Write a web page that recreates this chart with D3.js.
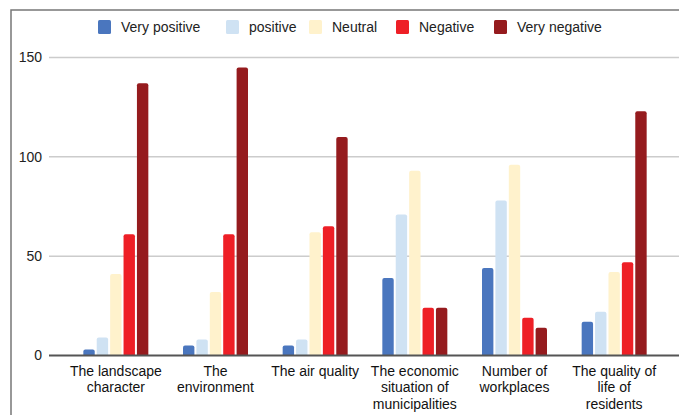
<!DOCTYPE html>
<html lang="en">
<head>
    <meta charset="UTF-8">
    <title>Perception survey</title>
    <script src="https://d3js.org/d3.v7.min.js"></script>
    <style>
        body { margin: 0; background: #fff; }
        svg { display: block; font-family: "Liberation Sans", Arial, sans-serif; }
    </style>
</head>
<body>
    <div id="chart"></div>
    <script>
        // Data
        var categories = [
            ["The landscape", "character"],
            ["The", "environment"],
            ["The air quality"],
            ["The economic", "situation of", "municipalities"],
            ["Number of", "workplaces"],
            ["The quality of", "life of", "residents"]
        ];
        var seriesNames = ["Very positive", "positive", "Neutral", "Negative", "Very negative"];
        var seriesColors = ["#4a76be", "#cfe2f3", "#fff2cc", "#ee1f26", "#951b1e"];
        var veryPositive = [3, 5, 5, 39, 44, 17];
        var positive = [9, 8, 8, 71, 78, 22];
        var neutral = [41, 32, 62, 93, 96, 42];
        var negative = [61, 61, 65, 24, 19, 47];
        var veryNegative = [137, 145, 110, 24, 14, 123];
        var yTicks = [0, 50, 100, 150];

        var allSeries = [veryPositive, positive, neutral, negative, veryNegative];
        var width = 679, height = 415;

        var svg = d3.select("#chart").append("svg")
            .attr("width", width)
            .attr("height", height);

        // outer frame (top and left edges visible)
        svg.append("path")
            .attr("d", "M11,415 V10 H679")
            .attr("fill", "none")
            .attr("stroke", "#777")
            .attr("stroke-width", 1.5);

        var catIdx = d3.range(categories.length);
        var x0 = d3.scaleBand().domain(catIdx).range([66, 664]);
        var x1 = d3.scaleBand().domain(d3.range(seriesNames.length)).range([0, 65]).paddingInner(0.15);
        var y = d3.scaleLinear().domain([0, 150]).range([355.5, 57.5]);

        // gridlines
        svg.append("g").selectAll("line")
            .data(yTicks.filter(function(d) { return d > 0; }))
            .enter().append("line")
            .attr("x1", 49).attr("x2", 681)
            .attr("y1", function(d) { return y(d); })
            .attr("y2", function(d) { return y(d); })
            .attr("stroke", "#ccc")
            .attr("stroke-width", 1.5);

        // y tick labels
        svg.append("g").selectAll("text")
            .data(yTicks)
            .enter().append("text")
            .attr("x", 42)
            .attr("y", function(d) { return y(d); })
            .attr("dy", "0.35em")
            .attr("text-anchor", "end")
            .attr("font-size", 14)
            .attr("fill", "#222")
            .text(function(d) { return d; });

        // bars with rounded tops
        function barPath(x, w, v) {
            var top = y(v), base = y(0), r = Math.min(2, (base - top) / 2);
            return "M" + x + "," + base + "V" + (top + r) +
                "Q" + x + "," + top + " " + (x + r) + "," + top +
                "H" + (x + w - r) +
                "Q" + (x + w) + "," + top + " " + (x + w) + "," + (top + r) +
                "V" + base + "Z";
        }

        var groups = svg.append("g").selectAll("g")
            .data(catIdx)
            .enter().append("g")
            .attr("transform", function(i) { return "translate(" + (x0(i) + x0.bandwidth() / 2 - 32.5) + ",0)"; });

        groups.selectAll("path")
            .data(function(i) { return allSeries.map(function(s, k) { return { k: k, v: s[i] }; }); })
            .enter().append("path")
            .attr("d", function(d) { return barPath(x1(d.k), x1.bandwidth(), d.v); })
            .attr("fill", function(d) { return seriesColors[d.k]; });

        // baseline
        svg.append("line")
            .attr("x1", 49).attr("x2", 681)
            .attr("y1", y(0)).attr("y2", y(0))
            .attr("stroke", "#555")
            .attr("stroke-width", 1.8);

        // x labels
        var xl = svg.append("g").selectAll("text")
            .data(catIdx)
            .enter().append("text")
            .attr("text-anchor", "middle")
            .attr("font-size", 14)
            .attr("fill", "#111")
            .attr("x", function(i) { return x0(i) + x0.bandwidth() / 2; })
            .attr("y", 376);
        xl.selectAll("tspan")
            .data(function(i) { return categories[i]; })
            .enter().append("tspan")
            .attr("x", function() { return d3.select(this.parentNode).attr("x"); })
            .attr("dy", function(d, j) { return j === 0 ? 0 : 16.3; })
            .text(function(d) { return d; });

        // legend
        var legendX = [98, 226, 309, 396, 494];
        var legend = svg.append("g").selectAll("g")
            .data(seriesNames)
            .enter().append("g")
            .attr("transform", function(d, i) { return "translate(" + legendX[i] + ",27)"; });
        legend.append("rect")
            .attr("x", 0).attr("y", -7)
            .attr("width", 13).attr("height", 14)
            .attr("rx", 1.5)
            .attr("fill", function(d, i) { return seriesColors[i]; });
        legend.append("text")
            .attr("x", 23)
            .attr("dy", "0.35em")
            .attr("font-size", 14)
            .attr("fill", "#222")
            .text(function(d) { return d; });
    </script>
</body>
</html>
